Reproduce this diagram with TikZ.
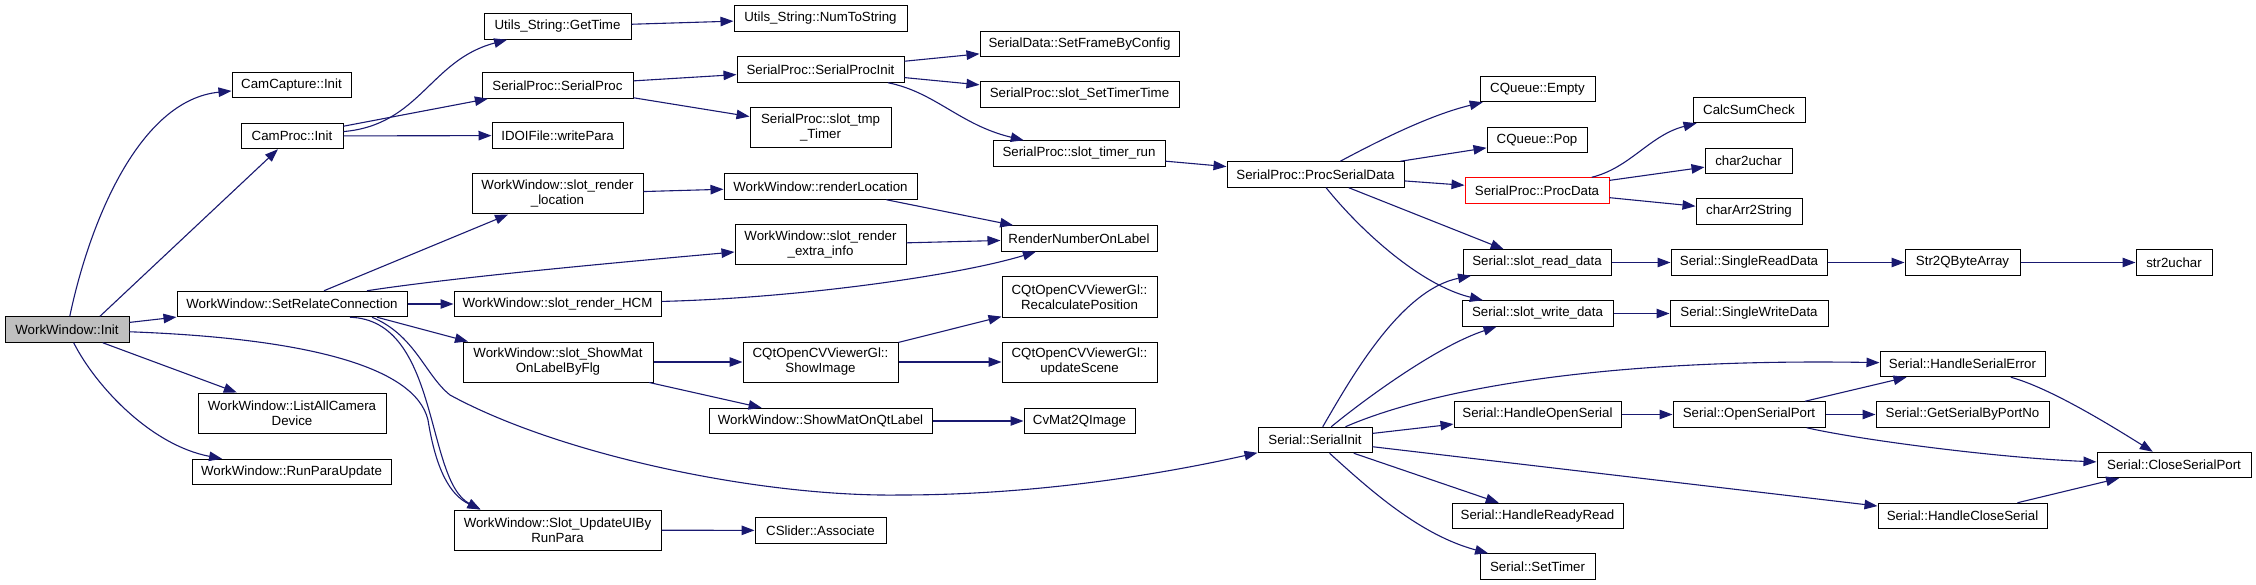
\documentclass[tikz,border=0pt]{standalone}
\usepackage{fontspec}
\setmainfont{Liberation Sans}
\usetikzlibrary{positioning,calc,arrows.meta}
\definecolor{edgeblue}{HTML}{191970}
\definecolor{initgray}{HTML}{BFBFBF}

\begin{document}
\begin{tikzpicture}
		[x=1pt, y=-1pt,
		fn/.style={draw=black, line width=1pt, inner sep=0pt, minimum height=25.5pt, align=center, font=\fontsize{13.3}{15}\selectfont},
		dbl/.style={minimum height=40pt},
		call/.style={draw=edgeblue, line width=1.1pt, -{Triangle[length=13pt,width=9.5pt]}}]
		\useasboundingbox (0,0) rectangle (2256,585);

		\node[fn, fill=initgray, minimum width=124pt] (init) at (67,329.5) {WorkWindow::Init};
		\node[fn, minimum width=119pt] (camcap) at (291.5,85) {CamCapture::Init};
		\node[fn, minimum width=102pt] (camproc) at (292,136) {CamProc::Init};
		\node[fn, minimum width=230pt] (setrel) at (292,304) {WorkWindow::SetRelateConnection};
		\node[fn, dbl, minimum width=188pt] (listcam) at (292,413) {WorkWindow::ListAllCamera\\Device};
		\node[fn, minimum width=199pt] (runpara) at (291.5,472) {WorkWindow::RunParaUpdate};

		\node[fn, minimum width=147pt] (gettime) at (557.5,26.5) {Utils\_String::GetTime};
		\node[fn, minimum width=151pt] (serproc) at (557.5,85.5) {SerialProc::SerialProc};
		\node[fn, minimum width=131pt] (writepara) at (557.5,135.5) {IDOIFile::writePara};
		\node[fn, dbl, minimum width=171pt] (rloc) at (557.5,194) {WorkWindow::slot\_render\\\_location};
		\node[fn, minimum width=207pt] (hcm) at (557.5,304) {WorkWindow::slot\_render\_HCM};
		\node[fn, dbl, minimum width=190pt] (showmat) at (558,362) {WorkWindow::slot\_ShowMat\\OnLabelByFlg};
		\node[fn, dbl, minimum width=207pt] (updui) at (557.5,530) {WorkWindow::Slot\_UpdateUIBy\\RunPara};

		\node[fn, minimum width=173pt] (numtostr) at (820.5,18.5) {Utils\_String::NumToString};
		\node[fn, minimum width=167pt] (spinit) at (820.5,69.5) {SerialProc::SerialProcInit};
		\node[fn, dbl, minimum width=141pt] (tmptimer) at (820.5,128) {SerialProc::slot\_tmp\\\_Timer};
		\node[fn, minimum width=193pt] (renderloc) at (820.5,186.5) {WorkWindow::renderLocation};
		\node[fn, dbl, minimum width=171pt] (extra) at (820.5,245) {WorkWindow::slot\_render\\\_extra\_info};
		\node[fn, dbl, minimum width=155pt] (showimg) at (820.5,362) {CQtOpenCVViewerGl::\\ShowImage};
		\node[fn, minimum width=223pt] (showqt) at (820.5,421) {WorkWindow::ShowMatOnQtLabel};
		\node[fn, minimum width=131pt] (assoc) at (820.5,530.5) {CSlider::Associate};

		\node[fn, minimum width=199pt] (setframe) at (1079.5,44) {SerialData::SetFrameByConfig};
		\node[fn, minimum width=199pt] (settt) at (1079.5,94.5) {SerialProc::slot\_SetTimerTime};
		\node[fn, minimum width=172pt] (timerrun) at (1079,153.5) {SerialProc::slot\_timer\_run};
		\node[fn, minimum width=156pt] (rnol) at (1079,238.5) {RenderNumberOnLabel};
		\node[fn, dbl, minimum width=155pt] (recalc) at (1079.5,297) {CQtOpenCVViewerGl::\\RecalculatePosition};
		\node[fn, dbl, minimum width=155pt] (updscene) at (1079.5,362) {CQtOpenCVViewerGl::\\updateScene};
		\node[fn, minimum width=111pt] (cvmat) at (1079.5,421) {CvMat2QImage};

		\node[fn, minimum width=177pt] (procser) at (1315.5,174.5) {SerialProc::ProcSerialData};
		\node[fn, minimum width=114pt] (serinit) at (1315,440) {Serial::SerialInit};

		\node[fn, minimum width=115pt] (qempty) at (1537.5,89) {CQueue::Empty};
		\node[fn, minimum width=100pt] (qpop) at (1537,140) {CQueue::Pop};
		\node[fn, draw=red, minimum width=144pt] (procdata) at (1537,190.5) {SerialProc::ProcData};
		\node[fn, minimum width=148pt] (readdata) at (1537,262.5) {Serial::slot\_read\_data};
		\node[fn, minimum width=151pt] (writedata) at (1537.5,313.5) {Serial::slot\_write\_data};
		\node[fn, minimum width=167pt] (hopen) at (1537.5,414.5) {Serial::HandleOpenSerial};
		\node[fn, minimum width=171pt] (hready) at (1537.5,516) {Serial::HandleReadyRead};
		\node[fn, minimum width=115pt] (settimer) at (1537.5,566.5) {Serial::SetTimer};

		\node[fn, minimum width=112pt] (calcsum) at (1749,110) {CalcSumCheck};
		\node[fn, minimum width=87pt] (c2u) at (1748.5,161) {char2uchar};
		\node[fn, minimum width=106pt] (ca2s) at (1749,211.5) {charArr2String};
		\node[fn, minimum width=156pt] (sread) at (1749,262.5) {Serial::SingleReadData};
		\node[fn, minimum width=158pt] (swrite) at (1749,313.5) {Serial::SingleWriteData};
		\node[fn, minimum width=152pt] (openport) at (1749,414.5) {Serial::OpenSerialPort};

		\node[fn, minimum width=115pt] (s2qba) at (1962.5,262.5) {Str2QByteArray};
		\node[fn, minimum width=165pt] (serr) at (1962.5,364) {Serial::HandleSerialError};
		\node[fn, minimum width=173pt] (getport) at (1962.5,414.5) {Serial::GetSerialByPortNo};
		\node[fn, minimum width=169pt] (hclose) at (1962.5,516) {Serial::HandleCloseSerial};
		\node[fn, minimum width=76pt] (s2uc) at (2174,262.5) {str2uchar};
		\node[fn, minimum width=154pt] (closeport) at (2174,465) {Serial::CloseSerialPort};

		\draw[call] (init) .. controls (90,220) and (140,100) .. (camcap);
		\draw[call] ([xshift=33pt]init.north) -- (camproc);
		\draw[call] (init) -- (setrel);
		\draw[call] (init) -- (listcam);
		\draw[call] (init) .. controls (95,385) and (150,445) .. (runpara);
		\draw[call] (init) .. controls (300,338) and (415,365) .. (428,420) .. controls (436,470) and (450,495) .. ([xshift=-77pt]updui.north);

		\draw[call] (camproc) .. controls (420,125) and (430,60) .. (gettime);
		\draw[call] (camproc) -- (serproc);
		\draw[call] (camproc) -- (writepara);

		\draw[call] (setrel) -- (rloc);
		\draw[call] ([xshift=75pt]setrel.north) .. controls (450,278) and (600,264) .. ([yshift=-7pt]extra.west);
		\draw[call] (setrel) -- (hcm);
		\draw[call] ([xshift=85pt]setrel.south) -- ([xshift=-90pt]showmat.north);
		\draw[call] ([xshift=58pt]setrel.south) .. controls (440,320) and (425,480) .. ([xshift=-77pt]updui.north);
		\draw[call] ([xshift=80pt]setrel.south) .. controls (415,335) and (425,375) .. (450,395) .. controls (560,455) and (760,497) .. (900,495) .. controls (1050,495) and (1180,470) .. (serinit);

		\draw[call] (gettime) -- (numtostr);
		\draw[call] (serproc) -- (spinit);
		\draw[call] (serproc) -- (tmptimer);
		\draw[call] (spinit) -- (setframe);
		\draw[call] (spinit) -- (settt);
		\draw[call] (spinit) .. controls (935,92) and (960,125) .. (timerrun);
		\draw[call] (timerrun) -- (procser);

		\draw[call] (rloc) -- (renderloc);
		\draw[call] (renderloc) -- (rnol);
		\draw[call] (extra) -- (rnol);
		\draw[call] (hcm) .. controls (800,298) and (960,275) .. (rnol);
		\draw[call] (showmat) -- (showimg);
		\draw[call] (showmat) -- (showqt);
		\draw[call] (showimg) -- (recalc);
		\draw[call] (showimg) -- (updscene);
		\draw[call] (showqt) -- (cvmat);
		\draw[call] (updui) -- (assoc);

		\draw[call] (procser) .. controls (1380,140) and (1430,115) .. (qempty);
		\draw[call] (procser) -- (qpop);
		\draw[call] (procser) -- (procdata);
		\draw[call] (procser) -- (readdata);
		\draw[call] (procser) .. controls (1360,230) and (1420,285) .. (writedata);
		\draw[call] (procdata) .. controls (1630,168) and (1650,135) .. (calcsum);
		\draw[call] (procdata) -- (c2u);
		\draw[call] (procdata) -- (ca2s);
		\draw[call] (readdata) -- (sread);
		\draw[call] (sread) -- (s2qba);
		\draw[call] (s2qba) -- (s2uc);
		\draw[call] (writedata) -- (swrite);

		\draw[call] (serinit) .. controls (1350,380) and (1400,290) .. (readdata);
		\draw[call] (serinit) .. controls (1370,395) and (1440,345) .. (writedata);
		\draw[call] (serinit) .. controls (1430,390) and (1600,358) .. (serr);
		\draw[call] (serinit) -- (hopen);
		\draw[call] (serinit) -- (hclose);
		\draw[call] (serinit) -- (hready);
		\draw[call] (serinit) .. controls (1370,490) and (1420,535) .. (settimer);
		\draw[call] (hopen) -- (openport);
		\draw[call] (openport) -- (serr);
		\draw[call] (openport) -- (getport);
		\draw[call] (openport) .. controls (1860,440) and (2000,458) .. (closeport);
		\draw[call] (serr) .. controls (2050,388) and (2110,425) .. (closeport);
		\draw[call] (hclose) -- (closeport);
	\end{tikzpicture}
\end{document}
